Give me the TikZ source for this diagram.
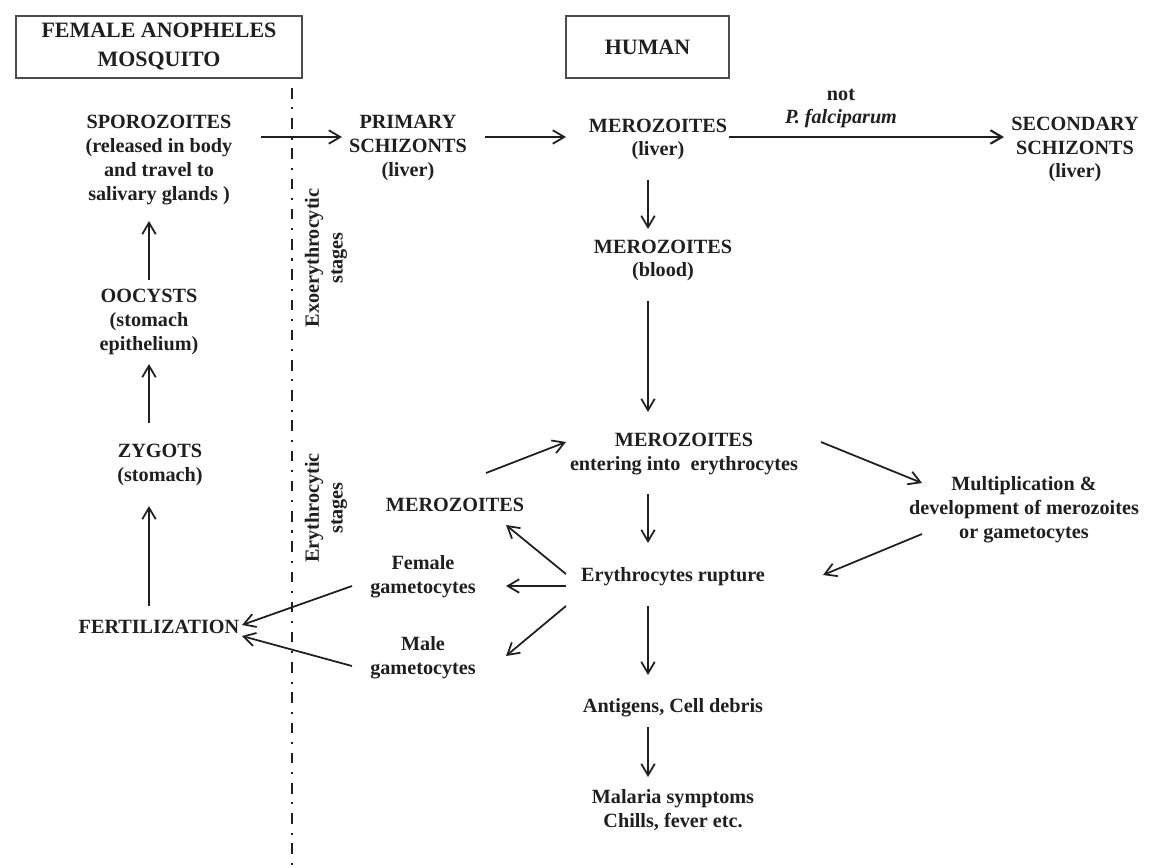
\documentclass[tikz,border=0pt]{standalone}
\usepackage{fontspec}
\setmainfont{Liberation Serif}
\usepackage{tikz}
\usetikzlibrary{arrows.meta, positioning, calc}
\definecolor{ink}{rgb}{0.12,0.12,0.12}

\begin{document}
\begin{tikzpicture}[
  x=0.02cm, y=-0.02cm,
  >={Straight Barb[length=2.3mm, width=2.7mm]},
  every path/.style={ink},
  stage/.style={align=center, text=ink, inner sep=1pt,
    font=\bfseries\fontsize{11.5}{13.5}\selectfont},
  hdr/.style={draw=black!70, line width=0.8pt, align=center, text=ink,
    minimum height=1.24cm, font=\bfseries\fontsize{12.5}{16.5}\selectfont},
  side/.style={stage, rotate=90},
  divider/.style={line width=1.1pt, dash pattern=on 6pt off 5pt on 1.2pt off 5pt}
]
\useasboundingbox (0,0) rectangle (1166,868);

% headers
\node[hdr, minimum width=5.72cm] (mosq) at (159,47) {FEMALE ANOPHELES\\MOSQUITO};
\node[hdr, minimum width=3.26cm] (human) at (647.5,47) {HUMAN};

% mosquito side
\node[stage] (spor) at (159,160) {SPOROZOITES\\(released in body\\and travel to\\salivary glands )};
\node[stage] (oocy) at (149,322) {OOCYSTS\\(stomach\\epithelium)};
\node[stage] (zyg) at (160,465) {ZYGOTS\\(stomach)};
\node[stage] (fert) at (159,627) {FERTILIZATION};

% divider and stage labels
\coordinate (divtop) at (292,88);
\coordinate (divbot) at (292,868);
\draw[divider] (divtop) -- (divbot);
\node[side] (exo) at (326,258) {Exoerythrocytic\\stages};
\node[side] (ery) at (326,508) {Erythrocytic\\stages};

% human side
\node[stage] (prim) at (408,148) {PRIMARY\\SCHIZONTS\\(liver)};
\node[stage] (merl) at (658,139.5) {MEROZOITES\\(liver)};
\node[stage] (note) at (841,108.5) {not\\\textit{P. falciparum}};
\node[stage] (sec) at (1075,149.5) {SECONDARY\\SCHIZONTS\\(liver)};
\node[stage] (merb) at (663,260.5) {MEROZOITES\\(blood)};
\node[stage] (ment) at (684,454) {MEROZOITES\\entering into\ \ erythrocytes};
\node[stage] (mult) at (1024,509.5) {Multiplication \&\\development of merozoites\\or gametocytes};
\node[stage] (merz) at (455,505) {MEROZOITES};
\node[stage] (rupt) at (673,577) {Erythrocytes rupture};
\node[stage] (fem) at (423,577) {Female\\gametocytes};
\node[stage] (male) at (423,658) {Male\\gametocytes};
\node[stage] (anti) at (673,708) {Antigens, Cell debris};
\node[stage] (mal) at (673,810) {Malaria symptoms\\Chills, fever etc.};

% arrows
\draw[->, line width=1pt] ($(spor)+(102,-23)$) -- ($(prim)+(-66,-11)$);
\draw[->, line width=1pt] ($(prim)+(77,-11)$) -- ($(merl)+(-92,-2.5)$);
\draw[->, line width=1.2pt] ($(merl)+(71,-2.5)$) -- ($(sec)+(-71,-12.5)$);
\draw[->, line width=1pt] ($(merl)+(-10,40.5)$) -- ($(merb)+(-15,-31.5)$);
\draw[->, line width=1pt] ($(merb)+(-15,40.5)$) -- ($(ment)+(-36,-42)$);
\draw[->, line width=1pt] ($(ment)+(-36,40)$) -- ($(rupt)+(-25,-34)$);
\draw[->, line width=1pt] ($(merz)+(31,-32)$) -- ($(ment)+(-118,-12)$);
\draw[->, line width=1pt] ($(ment)+(137,-12)$) -- ($(mult)+(-102,-26.5)$);
\draw[->, line width=1pt] ($(mult)+(-102,24.5)$) -- ($(rupt)+(150,-2)$);
\draw[->, line width=1pt] ($(rupt)+(-107,-3)$) -- ($(merz)+(51,20)$);
\draw[->, line width=1pt] ($(rupt)+(-107,9)$) -- ($(fem)+(83,9)$);
\draw[->, line width=1pt] ($(rupt)+(-107,29)$) -- ($(male)+(83,-2)$);
\draw[->, line width=1pt] ($(rupt)+(-25,29)$) -- ($(anti)+(-25,-33)$);
\draw[->, line width=1pt] ($(anti)+(-25,19)$) -- ($(mal)+(-25,-33)$);
\draw[->, line width=1pt] ($(fem)+(-71,9)$) -- ($(fert)+(83,-2)$);
\draw[->, line width=1pt] ($(male)+(-71,8)$) -- ($(fert)+(83,9)$);
\draw[->, line width=1pt] ($(fert)+(-10,-21)$) -- ($(zyg)+(-11,41)$);
\draw[->, line width=1pt] ($(zyg)+(-11,-42)$) -- ($(oocy)+(0,42)$);
\draw[->, line width=1pt] ($(oocy)+(0,-42)$) -- ($(spor)+(-10,61)$);
\end{tikzpicture}
\end{document}
